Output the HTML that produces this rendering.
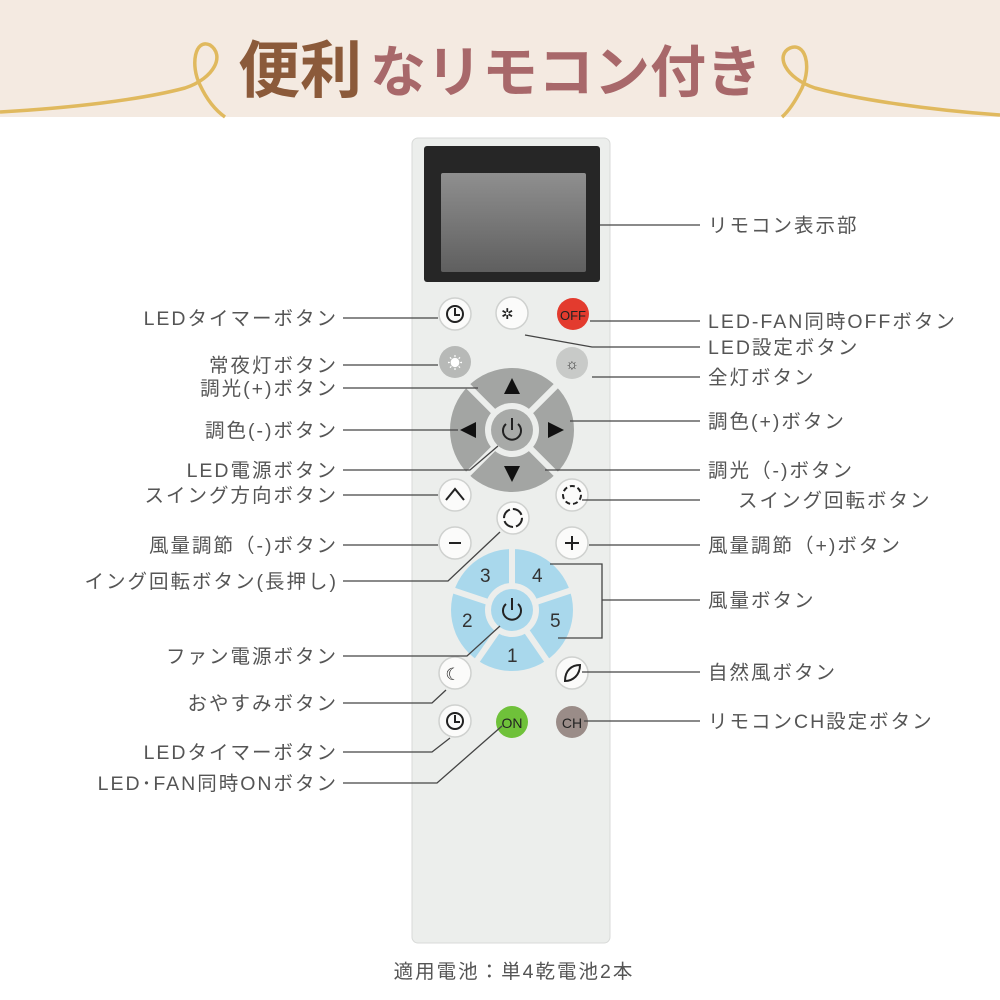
<!DOCTYPE html>
<html><head><meta charset="utf-8"><style>
html,body{margin:0;padding:0;background:#fff;}
svg{display:block;}
text{font-family:"Liberation Sans","Noto Sans CJK JP",sans-serif;}
.l{font-size:19.5px;fill:#555;letter-spacing:2px;}
.ln{stroke:#444;stroke-width:1.3;fill:none;}
.wb{fill:#fbfbfa;stroke:#cfd1cf;stroke-width:1.5;}
.ic{fill:none;stroke:#222;stroke-width:2;}
</style></head><body>
<svg width="1000" height="1000" viewBox="0 0 1000 1000">
<defs>
<linearGradient id="lcd" x1="0" y1="0" x2="0" y2="1"><stop offset="0" stop-color="#8f8f8f"/><stop offset="1" stop-color="#5f5f5f"/></linearGradient>
</defs>
<rect x="0" y="0" width="1000" height="117" fill="#f4eae1"/>
<path d="M0,112 C70,108 140,100 185,88 C215,78 225,55 210,45 C195,38 190,65 200,85 C207,100 215,110 225,117" fill="none" stroke="#e0b95e" stroke-width="3.5"/>
<path d="M1000,115 C930,110 860,100 815,88 C785,78 775,55 790,48 C805,42 812,65 802,88 C796,100 790,110 782,117" fill="none" stroke="#e0b95e" stroke-width="3.5"/>
<text x="238" y="92" font-size="62" font-weight="bold" fill="#8b5a3a">便利</text>
<text x="370" y="92" font-size="56" font-weight="bold" fill="#a8686a">なリモコン付き</text>

<rect x="412" y="138" width="198" height="805" rx="6" fill="#eceeec" stroke="#d8dad8"/>
<rect x="424" y="146" width="176" height="136" rx="3" fill="#262626"/>
<rect x="441" y="173" width="145" height="99" rx="2" fill="url(#lcd)"/>

<circle cx="512" cy="430" r="62" fill="#a3a5a3"/>
<line x1="465" y1="383" x2="559" y2="477" stroke="#eceeec" stroke-width="6"/>
<line x1="559" y1="383" x2="465" y2="477" stroke="#eceeec" stroke-width="6"/>
<circle cx="512" cy="430" r="27" fill="#eceeec"/>
<circle cx="512" cy="430" r="21" fill="#a8aaa8"/>
<polygon points="512,378 504,394 520,394" fill="#111"/>
<polygon points="512,482 504,466 520,466" fill="#111"/>
<polygon points="460,430 476,422 476,438" fill="#111"/>
<polygon points="564,430 548,422 548,438" fill="#111"/>
<path d="M506,424 A9,9 0 1 0 518,424" class="ic" stroke-width="2.5"/><line x1="512" y1="418" x2="512" y2="430" class="ic" stroke-width="2.5"/>

<circle cx="512" cy="610" r="61" fill="#a9d8ec"/>
<g stroke="#eceeec" stroke-width="6">
<line x1="512" y1="610" x2="512" y2="546"/>
<line x1="512" y1="610" x2="452" y2="590"/>
<line x1="512" y1="610" x2="572" y2="590"/>
<line x1="512" y1="610" x2="476" y2="662"/>
<line x1="512" y1="610" x2="548" y2="662"/>
</g>
<circle cx="512" cy="610" r="27" fill="#eceeec"/>
<circle cx="512" cy="610" r="21" fill="#a9d8ec"/>
<path d="M506,604 A9,9 0 1 0 518,604" class="ic" stroke-width="2.5"/><line x1="512" y1="598" x2="512" y2="610" class="ic" stroke-width="2.5"/>
<g font-size="19" fill="#333" font-family="Liberation Sans,sans-serif">
<text x="480" y="582">3</text><text x="532" y="582">4</text><text x="462" y="627">2</text><text x="550" y="627">5</text><text x="507" y="662">1</text>
</g>

<circle cx="455" cy="314" r="16" class="wb"/><circle cx="455" cy="314" r="8" class="ic"/><path d="M455,308 V315 H460" class="ic"/>
<circle cx="512" cy="313" r="16" class="wb"/><text x="501" y="319" font-size="15" fill="#222">✲</text>
<circle cx="573" cy="314" r="16" fill="#e33b2e"/><text x="573" y="320" font-size="13" fill="#222" text-anchor="middle">OFF</text>
<circle cx="455" cy="362" r="16" fill="#b7b9b7"/><text x="455" y="368" font-size="15" fill="#fff" text-anchor="middle">☀</text>
<circle cx="572" cy="363" r="16" fill="#c8cac8"/><text x="572" y="369" font-size="15" fill="#333" text-anchor="middle">☼</text>
<circle cx="455" cy="495" r="16" class="wb"/><path d="M446,500 L455,489 L464,500" class="ic"/>
<circle cx="572" cy="495" r="16" class="wb"/><circle cx="572" cy="495" r="9" class="ic" stroke-dasharray="5 3"/>
<circle cx="513" cy="518" r="16" class="wb"/><circle cx="513" cy="518" r="9" class="ic" stroke-dasharray="11 3"/>
<circle cx="455" cy="543" r="16" class="wb"/><line x1="449" y1="543" x2="461" y2="543" class="ic" stroke-width="2.5"/>
<circle cx="572" cy="543" r="16" class="wb"/><line x1="565" y1="543" x2="579" y2="543" class="ic"/><line x1="572" y1="536" x2="572" y2="550" class="ic"/>
<circle cx="455" cy="673" r="16" class="wb"/><text x="453" y="680" font-size="17" fill="#222" text-anchor="middle">☾</text>
<circle cx="572" cy="673" r="16" class="wb"/><path d="M565,681 C565,670 572,665 580,665 C580,675 573,681 565,681 Z" class="ic" stroke-width="1.3"/>
<circle cx="455" cy="721" r="16" class="wb"/><circle cx="455" cy="721" r="8" class="ic"/><path d="M455,715 V722 H460" class="ic"/>
<circle cx="512" cy="722" r="16" fill="#6fc13a"/><text x="512" y="728" font-size="14" fill="#222" text-anchor="middle">ON</text>
<circle cx="572" cy="722" r="16" fill="#9a8c88"/><text x="572" y="728" font-size="14" fill="#222" text-anchor="middle">CH</text>

<g class="ln">
<path d="M343,318 H438"/>
<path d="M343,365 H438"/>
<path d="M343,388 H478"/>
<path d="M343,430 H458"/>
<path d="M343,470 H470 L498,446"/>
<path d="M343,495 H438"/>
<path d="M343,545 H438"/>
<path d="M343,581 H448 L500,532"/>
<path d="M343,656 H467 L500,626"/>
<path d="M343,703 H432 L446,690"/>
<path d="M343,752 H432 L450,738"/>
<path d="M343,783 H437 L502,726"/>
<path d="M600,225 H700"/>
<path d="M590,321 H700"/>
<path d="M525,335 L592,347 H700"/>
<path d="M592,377 H700"/>
<path d="M570,421 H700"/>
<path d="M545,470 H700"/>
<path d="M582,500 H700"/>
<path d="M589,545 H700"/>
<path d="M550,564 H602 V638 H558"/>
<path d="M602,600 H700"/>
<path d="M582,672 H700"/>
<path d="M584,721 H700"/>
</g>

<g class="l" text-anchor="end">
<text x="338" y="325">LEDタイマーボタン</text>
<text x="338" y="372">常夜灯ボタン</text>
<text x="338" y="395">調光(+)ボタン</text>
<text x="338" y="437">調色(-)ボタン</text>
<text x="338" y="477">LED電源ボタン</text>
<text x="338" y="502">スイング方向ボタン</text>
<text x="338" y="552">風量調節（-)ボタン</text>
<text x="338" y="588">イング回転ボタン(長押し)</text>
<text x="338" y="663">ファン電源ボタン</text>
<text x="338" y="710">おやすみボタン</text>
<text x="338" y="759">LEDタイマーボタン</text>
<text x="338" y="790">LED･FAN同時ONボタン</text>
</g>
<g class="l">
<text x="708" y="232">リモコン表示部</text>
<text x="708" y="328">LED-FAN同時OFFボタン</text>
<text x="708" y="354">LED設定ボタン</text>
<text x="708" y="384">全灯ボタン</text>
<text x="708" y="428">調色(+)ボタン</text>
<text x="708" y="477">調光（-)ボタン</text>
<text x="738" y="507">スイング回転ボタン</text>
<text x="708" y="552">風量調節（+)ボタン</text>
<text x="708" y="607">風量ボタン</text>
<text x="708" y="679">自然風ボタン</text>
<text x="708" y="728">リモコンCH設定ボタン</text>
</g>
<text x="514" y="978" class="l" text-anchor="middle">適用電池：単4乾電池2本</text>
</svg>
</body></html>
